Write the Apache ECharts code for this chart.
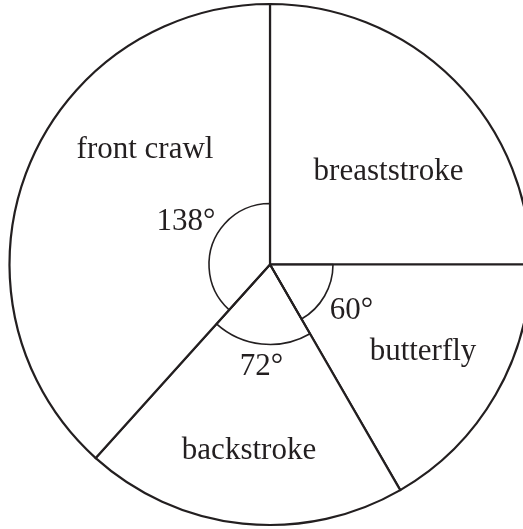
<!DOCTYPE html>
<html>
<head>
<meta charset="utf-8">
<script src="https://cdn.jsdelivr.net/npm/echarts@6/dist/echarts.min.js"></script>
<style>
html,body{margin:0;padding:0;background:#fff;}
#chart{width:523px;height:529px;}
</style>
</head>
<body>
<div id="chart"></div>
<script>
// Data (angles in degrees), clockwise from 12 o'clock
const categories = ['breaststroke', 'butterfly', 'backstroke', 'front crawl'];
const angles = [90, 60, 72, 138];
const angleLabels = ['', '60°', '72°', '138°'];

const INK = '#231f20';
const FONT = '"Liberation Serif", "Times New Roman", serif';
const CENTER = [270, 264.5];

const chart = echarts.init(document.getElementById('chart'), null, {renderer: 'canvas'});

function arcSeries(idx, r) {
  return {
    type: 'pie',
    center: CENTER,
    radius: [0, r],
    startAngle: 90,
    clockwise: true,
    silent: true,
    label: {show: false},
    labelLine: {show: false},
    emphasis: {disabled: true},
    z: 3,
    data: categories.map((c, i) => ({
      name: c,
      value: angles[i],
      itemStyle: {
        color: 'transparent',
        borderColor: i === idx ? INK : 'transparent',
        borderWidth: i === idx ? 1.6 : 0
      }
    }))
  };
}

const textPos = {
  'front crawl': [145, 149.5],
  'breaststroke': [388.5, 171.5],
  'butterfly': [423, 351.5],
  'backstroke': [249, 450.5]
};
const anglePos = {
  'butterfly': [351.5, 311],
  'backstroke': [261.5, 366.5],
  'front crawl': [186, 221.5]
};

const graphics = [];
categories.forEach((c, i) => {
  graphics.push({
    type: 'text', x: textPos[c][0], y: textPos[c][1], z: 10,
    style: {text: c, fill: INK, font: '31px ' + FONT, align: 'center', verticalAlign: 'middle'}
  });
  if (angleLabels[i]) {
    graphics.push({
      type: 'text', x: anglePos[c][0], y: anglePos[c][1], z: 10,
      style: {text: angleLabels[i], fill: INK, font: '31px ' + FONT, align: 'center', verticalAlign: 'middle'}
    });
  }
});

chart.setOption({
  animation: false,
  backgroundColor: '#fff',
  series: [
    {
      type: 'pie',
      center: CENTER,
      radius: [0, 260.5],
      startAngle: 90,
      clockwise: true,
      silent: true,
      label: {show: false},
      labelLine: {show: false},
      emphasis: {disabled: true},
      itemStyle: {color: '#fff', borderColor: INK, borderWidth: 2.2},
      z: 2,
      data: categories.map((c, i) => ({name: c, value: angles[i]}))
    },
    arcSeries(1, 63),
    arcSeries(2, 80),
    arcSeries(3, 61)
  ],
  graphic: graphics
});
</script>
</body>
</html>
